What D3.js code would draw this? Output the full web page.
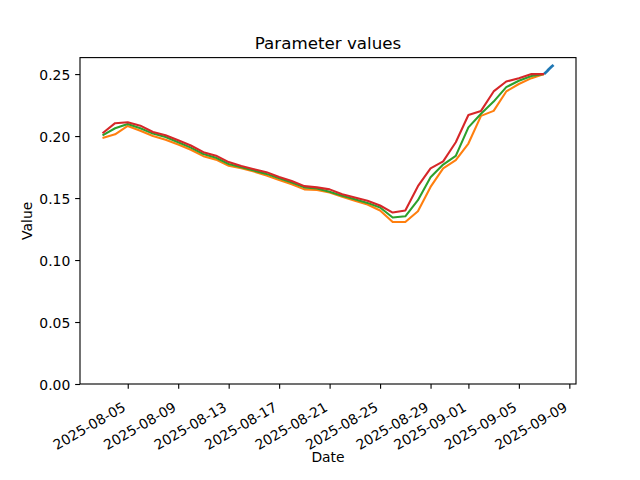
<!DOCTYPE html>
<html>
<head>
<meta charset="utf-8">
<script src="https://cdn.jsdelivr.net/npm/d3@7"></script>
<style>
  html, body { margin: 0; padding: 0; background: #fff; }
  svg { display: block; }
  text { font-family: "DejaVu Sans", sans-serif; fill: #000; }
</style>
</head>
<body>
<svg id="chart" width="640" height="480"></svg>
<script>
// ---- data ----
const dates = [
  "2025-08-03","2025-08-04","2025-08-05","2025-08-06","2025-08-07","2025-08-08",
  "2025-08-09","2025-08-10","2025-08-11","2025-08-12","2025-08-13","2025-08-14",
  "2025-08-15","2025-08-16","2025-08-17","2025-08-18","2025-08-19","2025-08-20",
  "2025-08-21","2025-08-22","2025-08-23","2025-08-24","2025-08-25","2025-08-26",
  "2025-08-27","2025-08-28","2025-08-29","2025-08-30","2025-08-31","2025-09-01",
  "2025-09-02","2025-09-03","2025-09-04","2025-09-05","2025-09-06","2025-09-07"
];
const orangeValues = [
  0.1985,0.2014,0.2082,0.2043,0.2000,0.1970,0.1932,0.1890,0.1838,0.1810,0.1760,0.1740,
  0.1714,0.1681,0.1645,0.1612,0.1570,0.1566,0.1545,0.1510,0.1478,0.1448,0.1400,0.1307,
  0.1307,0.1394,0.1590,0.1740,0.1805,0.1940,0.2163,0.2203,0.2360,0.2420,0.2467,0.2500
];
const greenValues = [
  0.2006,0.2063,0.2098,0.2063,0.2020,0.1992,0.1950,0.1907,0.1855,0.1825,0.1775,0.1748,
  0.1722,0.1695,0.1660,0.1626,0.1586,0.1577,0.1550,0.1518,0.1490,0.1461,0.1424,0.1343,
  0.1353,0.1483,0.1667,0.1770,0.1840,0.2070,0.2180,0.2278,0.2395,0.2446,0.2484,0.2500
];
const redValues = [
  0.2023,0.2104,0.2112,0.2084,0.2033,0.2006,0.1966,0.1924,0.1870,0.1842,0.1790,0.1758,
  0.1733,0.1709,0.1670,0.1637,0.1596,0.1586,0.1570,0.1530,0.1505,0.1478,0.1440,0.1383,
  0.1400,0.1596,0.1740,0.1796,0.1950,0.2170,0.2203,0.2360,0.2440,0.2467,0.2500,0.2500
];
const blueTimes = [
  "2025-09-07T00:00","2025-09-07T03:00","2025-09-07T06:00","2025-09-07T09:00",
  "2025-09-07T12:00","2025-09-07T15:00","2025-09-07T18:00"
];
const blueValues = [0.2500,0.2512,0.2525,0.2539,0.2551,0.2563,0.2574];
const xTickLabels = ["2025-08-05","2025-08-09","2025-08-13","2025-08-17","2025-08-21",
                     "2025-08-25","2025-08-29","2025-09-01","2025-09-05","2025-09-09"];
const yTickValues = [0.00,0.05,0.10,0.15,0.20,0.25];

// ---- layout ----
const svg = d3.select("#chart");
const L = 80, R = 576, T = 57.6, B = 384;
const parse = d3.timeParse("%Y-%m-%d");
const parseT = d3.timeParse("%Y-%m-%dT%H:%M");

const x = d3.scaleTime()
  .domain([parseT("2025-08-01T05:12"), parseT("2025-09-09T12:40")])
  .range([L, R]);
const y = d3.scaleLinear().domain([0, 0.2633]).range([B, T]);

const fs = 13.9;

// series
const mk = (ds, vs, p) => ds.map((d, i) => ({ t: p(d), v: vs[i] }));
const series = [
  { data: mk(blueTimes, blueValues, parseT), color: "#1f77b4", w: 2.7 },
  { data: mk(dates, orangeValues, parse), color: "#ff7f0e", w: 2.08 },
  { data: mk(dates, greenValues, parse), color: "#2ca02c", w: 2.08 },
  { data: mk(dates, redValues, parse), color: "#d62728", w: 2.08 }
];
const line = d3.line().x(d => x(d.t)).y(d => y(d.v));
const g = svg.append("g");
series.forEach(s => {
  g.append("path").attr("d", line(s.data))
    .attr("fill", "none").attr("stroke", s.color)
    .attr("stroke-width", s.w).attr("stroke-linejoin", "round").attr("stroke-linecap", "butt");
});

// axes frame
svg.append("rect").attr("x", L).attr("y", T).attr("width", R - L).attr("height", B - T)
  .attr("fill", "none").attr("stroke", "#000").attr("stroke-width", 1.11);

// x axis
const xAxis = d3.axisBottom(x)
  .tickValues(xTickLabels.map(parse))
  .tickFormat(d3.timeFormat("%Y-%m-%d"))
  .tickSize(4.86).tickPadding(0);
const gx = svg.append("g").attr("transform", `translate(0,${B})`).call(xAxis);
gx.select(".domain").remove();
gx.selectAll(".tick line").attr("stroke", "#000").attr("stroke-width", 1.11);
gx.selectAll(".tick text")
  .attr("font-size", fs).attr("font-family", "DejaVu Sans")
  .attr("text-anchor", "end").attr("dy", null).attr("y", null)
  .attr("transform", "translate(-1.5,26) rotate(-30)");

// y axis
const yAxis = d3.axisLeft(y).tickValues(yTickValues).tickFormat(d3.format(".2f"))
  .tickSize(4.86).tickPadding(4.86);
const gy = svg.append("g").attr("transform", `translate(${L},0)`).call(yAxis);
gy.select(".domain").remove();
gy.selectAll(".tick line").attr("stroke", "#000").attr("stroke-width", 1.11);
gy.selectAll(".tick text").attr("font-size", fs).attr("font-family", "DejaVu Sans")
  .attr("dy", "0.36em");

// labels
svg.append("text").attr("x", (L + R) / 2).attr("y", 49.3).attr("text-anchor", "middle")
  .attr("font-size", 16.7).text("Parameter values");
svg.append("text").attr("x", (L + R) / 2).attr("y", 462).attr("text-anchor", "middle")
  .attr("font-size", fs).text("Date");
svg.append("text").attr("transform", `translate(31.5,${(T + B) / 2}) rotate(-90)`)
  .attr("text-anchor", "middle").attr("font-size", fs).text("Value");
</script>
</body>
</html>
